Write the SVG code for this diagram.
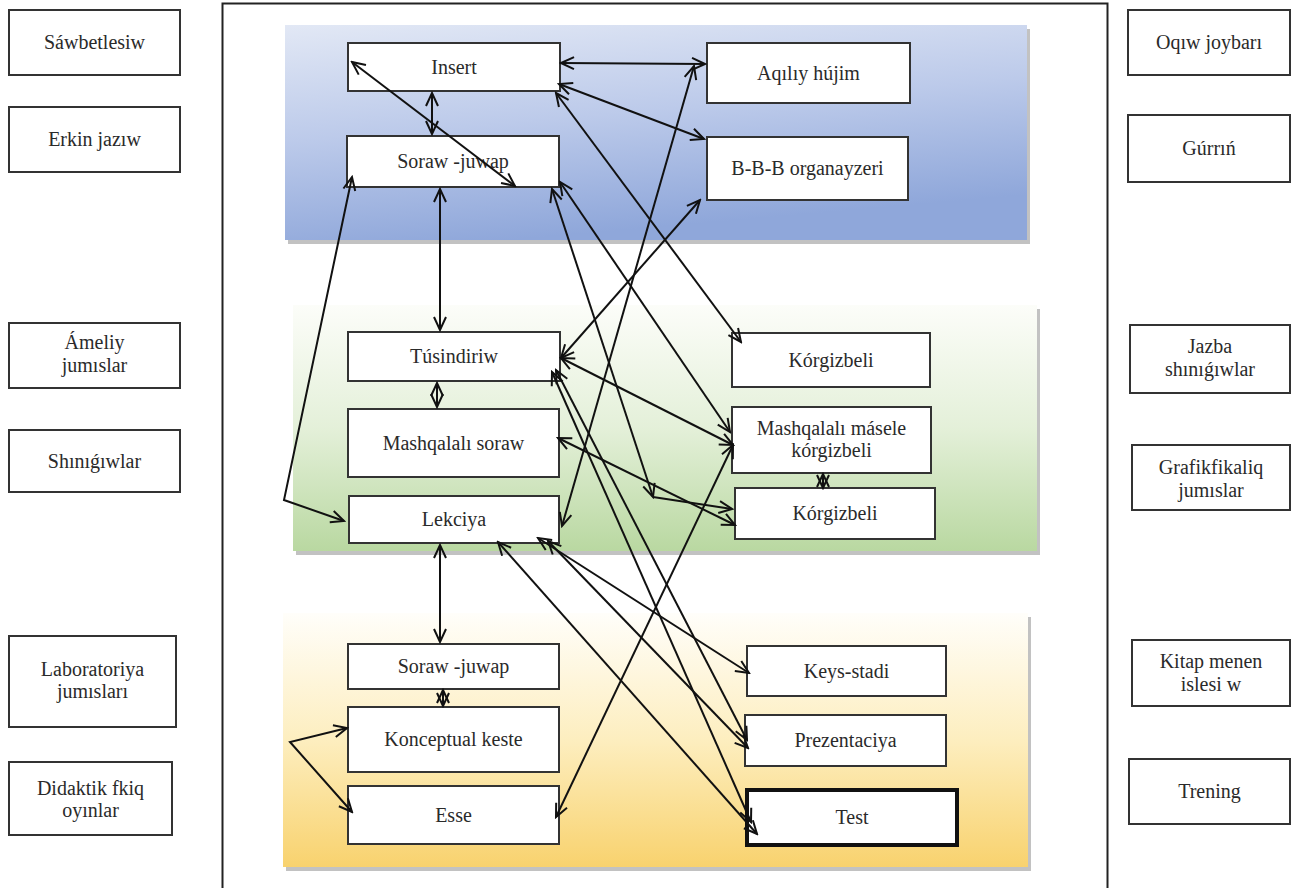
<svg xmlns="http://www.w3.org/2000/svg" width="1297" height="888" viewBox="0 0 1297 888">
<defs>
<linearGradient id="gBlue" x1="0" y1="0" x2="0.3" y2="1">
<stop offset="0" stop-color="#e2e8f5"/>
<stop offset="0.5" stop-color="#bccaea"/>
<stop offset="1" stop-color="#8fa7da"/>
</linearGradient>
<linearGradient id="gGreen" x1="0" y1="0" x2="0" y2="1">
<stop offset="0" stop-color="#fcfdf9"/>
<stop offset="0.5" stop-color="#e4f0d9"/>
<stop offset="1" stop-color="#b9d8a1"/>
</linearGradient>
<linearGradient id="gYellow" x1="0" y1="0" x2="0" y2="1">
<stop offset="0" stop-color="#fffefa"/>
<stop offset="0.5" stop-color="#fdeebf"/>
<stop offset="1" stop-color="#f8d26e"/>
</linearGradient>
<marker id="ah" viewBox="-14 -8 16 16" refX="0" refY="0" markerWidth="16" markerHeight="16" markerUnits="userSpaceOnUse" orient="auto-start-reverse">
<path d="M-13,-6 L0,0 L-13,6" fill="none" stroke="#111" stroke-width="2"/>
</marker>
<style>
.box{fill:#fff;stroke:#333;stroke-width:2}
.t{font-family:"Liberation Serif","Times New Roman",serif;font-size:20px;fill:#2a2a2a;text-anchor:middle}
.c{fill:none;stroke:#111;stroke-width:2}
.d{marker-start:url(#ah);marker-end:url(#ah)}
.e{marker-end:url(#ah)}
.sh{fill:#9a9a9a;opacity:0.6}
</style>
</defs>
<rect x="0" y="0" width="1297" height="888" fill="#fff"/>
<rect x="222.5" y="3.5" width="885" height="900" fill="none" stroke="#222" stroke-width="2"/>

<g id="band-blue">
<rect class="sh" x="288" y="29" width="742" height="215"/>
<rect x="285" y="25" width="742" height="215" fill="url(#gBlue)"/>
</g>
<g id="band-green">
<rect class="sh" x="296" y="309" width="744" height="246"/>
<rect x="293" y="305" width="744" height="246" fill="url(#gGreen)"/>
</g>
<g id="band-yellow">
<rect class="sh" x="286" y="617" width="745" height="254"/>
<rect x="283" y="613" width="745" height="254" fill="url(#gYellow)"/>
</g>

<g id="left-col">
<g id="n-sawbetlesiw"><rect class="box" x="9" y="10" width="171" height="65"/><text class="t" x="94.5" y="49">Sáwbetlesiw</text></g>
<g id="n-erkin"><rect class="box" x="9" y="107" width="171" height="65"/><text class="t" x="94.5" y="146">Erkin jazıw</text></g>
<g id="n-ameliy"><rect class="box" x="9" y="323" width="171" height="65"/><text class="t" x="94.5" y="349">Ámeliy</text><text class="t" x="94.5" y="372">jumıslar</text></g>
<g id="n-shinigiwlar"><rect class="box" x="9" y="430" width="171" height="62"/><text class="t" x="94.5" y="468">Shınıǵıwlar</text></g>
<g id="n-laboratoriya"><rect class="box" x="9" y="636" width="167" height="91"/><text class="t" x="92.5" y="676">Laboratoriya</text><text class="t" x="92.5" y="698">jumısları</text></g>
<g id="n-didaktik"><rect class="box" x="9" y="762" width="163" height="73"/><text class="t" x="90.5" y="795">Didaktik fkiq</text><text class="t" x="90.5" y="817">oyınlar</text></g>
</g>

<g id="right-col">
<g id="n-oqiw"><rect class="box" x="1128" y="10" width="162" height="65"/><text class="t" x="1209" y="49">Oqıw joybarı</text></g>
<g id="n-gurrin"><rect class="box" x="1128" y="115" width="162" height="67"/><text class="t" x="1209" y="155">Gúrrıń</text></g>
<g id="n-jazba"><rect class="box" x="1130" y="325" width="160" height="68"/><text class="t" x="1210" y="353">Jazba</text><text class="t" x="1210" y="376">shınıǵıwlar</text></g>
<g id="n-grafik"><rect class="box" x="1132" y="445" width="158" height="65"/><text class="t" x="1211" y="474">Grafikfikaliq</text><text class="t" x="1211" y="497">jumıslar</text></g>
<g id="n-kitap"><rect class="box" x="1132" y="640" width="158" height="66"/><text class="t" x="1211" y="668">Kitap menen</text><text class="t" x="1211" y="691">islesi w</text></g>
<g id="n-trening"><rect class="box" x="1129" y="759" width="161" height="65"/><text class="t" x="1209.5" y="798">Trening</text></g>
</g>

<g id="n-insert"><rect class="box" x="348" y="43" width="212" height="48"/><text class="t" x="454" y="74">Insert</text></g>
<g id="n-soraw1"><rect class="box" x="347" y="136" width="212" height="51"/><text class="t" x="453" y="168">Soraw -juwap</text></g>
<g id="n-aqiliy"><rect class="box" x="707" y="43" width="203" height="60"/><text class="t" x="808.5" y="80">Aqılıy hújim</text></g>
<g id="n-bbb"><rect class="box" x="707" y="137" width="201" height="63"/><text class="t" x="807.5" y="175">B-B-B organayzeri</text></g>
<g id="n-tusindiriw"><rect class="box" x="348" y="332" width="212" height="49"/><text class="t" x="454" y="363">Túsindiriw</text></g>
<g id="n-mashsoraw"><rect class="box" x="348" y="409" width="211" height="68"/><text class="t" x="453.5" y="450">Mashqalalı soraw</text></g>
<g id="n-lekciya"><rect class="box" x="349" y="496" width="210" height="47"/><text class="t" x="454" y="526">Lekciya</text></g>
<g id="n-korgiz1"><rect class="box" x="732" y="333" width="198" height="54"/><text class="t" x="831" y="367">Kórgizbeli</text></g>
<g id="n-mashmasele"><rect class="box" x="732" y="407" width="199" height="66"/><text class="t" x="831.5" y="435">Mashqalalı másele</text><text class="t" x="831.5" y="457">kórgizbeli</text></g>
<g id="n-korgiz2"><rect class="box" x="735" y="488" width="200" height="51"/><text class="t" x="835" y="520">Kórgizbeli</text></g>
<g id="n-soraw2"><rect class="box" x="348" y="644" width="211" height="45"/><text class="t" x="453.5" y="673">Soraw -juwap</text></g>
<g id="n-konceptual"><rect class="box" x="348" y="707" width="211" height="65"/><text class="t" x="453.5" y="746">Konceptual keste</text></g>
<g id="n-esse"><rect class="box" x="348" y="786" width="211" height="58"/><text class="t" x="453.5" y="822">Esse</text></g>
<g id="n-keys"><rect class="box" x="747" y="646" width="199" height="50"/><text class="t" x="846.5" y="678">Keys-stadi</text></g>
<g id="n-prezentaciya"><rect class="box" x="745" y="715" width="201" height="51"/><text class="t" x="845.5" y="747">Prezentaciya</text></g>
<g id="n-test"><rect x="747" y="790" width="210" height="55" fill="#fff" stroke="#111" stroke-width="4"/><text class="t" x="852" y="824">Test</text></g>

<g id="connectors">
<path class="c d" d="M432,93 L432,134"/>
<path class="c d" d="M352,62 L515,186"/>
<path class="c d" d="M561,63 L705,64"/>
<path class="c d" d="M559,84 L704,139"/>
<path class="c d" d="M556,93 L741,342"/>
<path class="c d" d="M352,177 L284,500 L344,521"/>
<path class="c d" d="M440,189 L440,330"/>
<path class="c d" d="M552,189 L653,497"/>
<path class="c e" d="M653,497 L732,509"/>
<path class="c d" d="M560,182 L730,432"/>
<path class="c d" d="M694,66 L562,526"/>
<path class="c d" d="M700,200 L561,358"/>
<path class="c d" d="M561,358 L733,445"/>
<path class="c d" d="M552,372 L751,822"/>
<path class="c d" d="M556,370 L747,740"/>
<path class="c d" d="M558,438 L735,525"/>
<path class="c d" d="M437,383 L437,407"/>
<path class="c d" d="M823,474 L823,488"/>
<path class="c d" d="M440,545 L440,642"/>
<path class="c d" d="M443,690 L443,706"/>
<path class="c d" d="M347,728 L290,742 L352,812"/>
<path class="c d" d="M733,445 L556,817"/>
<path class="c d" d="M538,538 L749,673"/>
<path class="c d" d="M548,541 L748,748"/>
<path class="c d" d="M498,542 L757,834"/>
</g>
</svg>
